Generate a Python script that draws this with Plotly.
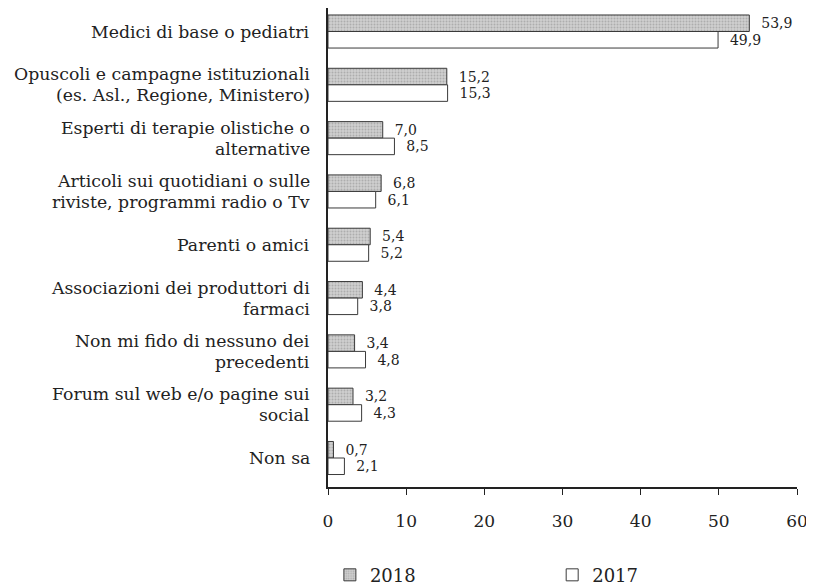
import plotly.graph_objects as go

categories = [
    "Medici di base o pediatri",
    "Opuscoli e campagne istituzionali<br>(es. Asl., Regione, Ministero)",
    "Esperti di terapie olistiche o<br>alternative",
    "Articoli sui quotidiani o sulle<br>riviste, programmi radio o Tv",
    "Parenti o amici",
    "Associazioni dei produttori di<br>farmaci",
    "Non mi fido di nessuno dei<br>precedenti",
    "Forum sul web e/o pagine sui<br>social",
    "Non sa",
]
values_2018 = [53.9, 15.2, 7.0, 6.8, 5.4, 4.4, 3.4, 3.2, 0.7]
values_2017 = [49.9, 15.3, 8.5, 6.1, 5.2, 3.8, 4.8, 4.3, 2.1]
x_ticks = [0, 10, 20, 30, 40, 50, 60]

FONT = "DejaVu Serif"
TXT = "#222"


def fmt(v):
    return "  " + f"{v:.1f}".replace(".", ",")


fig = go.Figure()
fig.add_trace(go.Bar(
    y=categories, x=values_2018, orientation="h", name="2018",
    legend="legend",
    marker=dict(
        color="#c4c4c4",
        line=dict(color="#3a3a3a", width=1),
        pattern=dict(shape=".", fgcolor="#8c8c8c", bgcolor="#cfcfcf", size=3, solidity=0.35),
    ),
    text=[fmt(v) for v in values_2018], textposition="outside",
    textfont=dict(family=FONT, size=14, color=TXT),
    cliponaxis=False,
))
fig.add_trace(go.Bar(
    y=categories, x=values_2017, orientation="h", name="2017",
    legend="legend2",
    marker=dict(color="white", line=dict(color="#3a3a3a", width=1)),
    text=[fmt(v) for v in values_2017], textposition="outside",
    textfont=dict(family=FONT, size=14, color=TXT),
    cliponaxis=False,
))

# category labels, right-aligned, one annotation per line
annotations = []
for cat in categories:
    lines = cat.split("<br>")
    n = len(lines)
    for i, line in enumerate(lines):
        annotations.append(dict(
            xref="paper", yref="y", x=0, y=cat,
            xanchor="right", yanchor="middle", xshift=-16,
            yshift=((n - 1) / 2 - i) * 21,
            text=line, showarrow=False, align="right",
            font=dict(family=FONT, size=17.3, color=TXT),
        ))

legend_common = dict(
    orientation="h", yanchor="middle", xanchor="left",
    font=dict(family=FONT, size=18, color=TXT),
    bgcolor="rgba(0,0,0,0)",
)

fig.update_layout(
    width=806, height=577,
    barmode="group", bargap=0.38, bargroupgap=0.0,
    plot_bgcolor="white", paper_bgcolor="white",
    font=dict(family=FONT, size=17, color=TXT),
    margin=dict(l=320, r=17, t=0, b=98, autoexpand=False),
    showlegend=True,
    legend=dict(x=0.004, y=-0.184, **legend_common),
    legend2=dict(x=0.478, y=-0.184, **legend_common),
    annotations=annotations,
)
fig.update_xaxes(
    range=[0, 60], tickvals=x_ticks, ticktext=[str(t) for t in x_ticks],
    showgrid=False, zeroline=False,
    showline=True, linecolor="#222", linewidth=1.5,
    ticks="outside", ticklen=6, tickcolor="#222",
    ticklabelstandoff=12, ticklabeloverflow="allow",
    tickfont=dict(family=FONT, size=17, color=TXT),
)
fig.update_yaxes(
    range=[8.544, -0.441], showgrid=False, zeroline=False,
    showline=True, linecolor="#222", linewidth=1.5,
    ticks="", showticklabels=False,
)

fig.write_html("out.html")
